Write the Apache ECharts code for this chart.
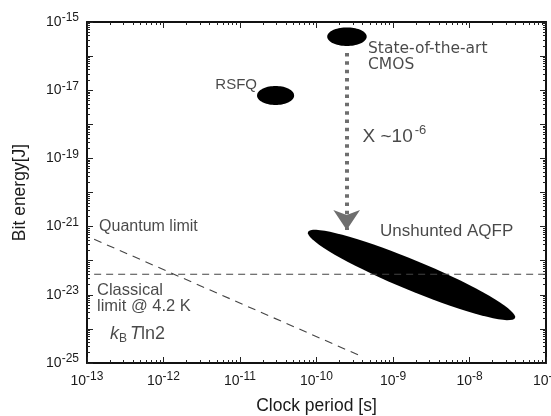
<!DOCTYPE html>
<html>
<head>
<meta charset="utf-8">
<script src="https://cdn.jsdelivr.net/npm/echarts@6/dist/echarts.min.js"></script>
<style>
  html, body { margin: 0; padding: 0; background: #fff; }
  #chart { width: 551px; height: 416px; }
</style>
</head>
<body>
<div id="chart"></div>
<script>
// axis range (decades)
const xDecades = [1e-13, 1e-12, 1e-11, 1e-10, 1e-9, 1e-8, 1e-7];
const yDecades = [1e-25, 1e-24, 1e-23, 1e-22, 1e-21, 1e-20, 1e-19, 1e-18, 1e-17, 1e-16, 1e-15];

// technology blobs, given by the two ends of the long axis
const blobNames = ['RSFQ', 'CMOS', 'Unshunted AQFP'];
const blobX1 = [1.67e-11, 1.38e-10, 7.74e-11];
const blobY1 = [7.0e-18, 3.71e-16, 6.95e-22];
const blobX2 = [5.1e-11, 4.53e-10, 3.94e-8];
const blobY2 = [7.0e-18, 3.71e-16, 2.09e-24];

// limit lines
const quantumX = [1.24e-13, 4.06e-10];
const quantumY = [4.25e-22, 1.5e-25];
const classicalX = [1.24e-13, 1e-7];
const classicalY = [4.0e-23, 4.0e-23];

// CMOS -> AQFP arrow
const arrowX = [2.48e-10, 2.48e-10];
const arrowY = [1.23e-16, 7.9e-22];

// annotations
const annoText = ['RSFQ', 'State-of-the-art\nCMOS', '{x|X ~10}{e|-6}', 'Unshunted AQFP',
  'Quantum limit', 'Classical\nlimit @ 4.2 K', '{i|k}{sub|B}{i|T}{r|ln2}'];
const annoX = [1.67e-11, 4.71e-10, 4.0e-10, 6.76e-10, 1.44e-13, 1.35e-13, 2.0e-13];
const annoY = [1.42e-17, 2.77e-16, 4.25e-19, 7.43e-22, 9.7e-22, 2.37e-23, 7.08e-25];

// the axes run on log10 of the values
const L = Math.log10;
function minorTicks(decades) {
  const out = [];
  for (let i = 0; i < decades.length - 1; i++) {
    for (let k = 2; k <= 9; k++) out.push(L(k * decades[i]));
  }
  return out;
}

const FONT = 'Liberation Sans';
const TXT = '#1a1a1a';
const blobHalfWidth = [9.5, 9.3, 15];
const annoStyle = [
  { align: 'right', verticalAlign: 'middle', fontSize: 15 },
  { align: 'left', verticalAlign: 'top', fontSize: 15.5, lineHeight: 16, fontFamily: 'DejaVu Sans' },
  { align: 'left', verticalAlign: 'middle' },
  { align: 'left', verticalAlign: 'middle', fontSize: 17 },
  { align: 'left', verticalAlign: 'middle', fontSize: 16 },
  { align: 'left', verticalAlign: 'top', fontSize: 16.5, lineHeight: 16 },
  { align: 'left', verticalAlign: 'middle' }
];

const tickRich = {
  b: { fontSize: 14, lineHeight: 20, fontFamily: FONT, color: TXT },
  s: { fontSize: 12, lineHeight: 11, verticalAlign: 'top', fontFamily: FONT, color: TXT }
};

// main axes carry the frame and decade ticks, overlay axes the 2..9 minor ticks
function axis(dim, position, len, main, extra) {
  const o = {
    type: 'value', position: position,
    min: dim === 'x' ? L(xDecades[0]) : L(yDecades[0]),
    max: dim === 'x' ? L(xDecades[xDecades.length - 1]) : L(yDecades[yDecades.length - 1]),
    splitLine: { show: false },
    axisLine: { show: main, onZero: false, lineStyle: { color: '#111', width: 2 } },
    axisTick: { show: true, inside: true, length: len, lineStyle: { color: '#222', width: 1 } },
    axisLabel: { show: false }
  };
  if (main) {
    o.interval = 1;
  } else {
    o.axisTick.customValues = minorTicks(dim === 'x' ? xDecades : yDecades);
  }
  return Object.assign(o, extra || {});
}

const xAxes = [
  axis('x', 'bottom', 6, true, {
    name: 'Clock period [s]', nameLocation: 'middle', nameGap: 34,
    nameTextStyle: { fontSize: 17.5, fontFamily: FONT, color: TXT },
    axisLabel: { show: true, margin: 8, rich: tickRich,
      formatter: v => '{b|10}{s|' + Math.round(v) + '}' }
  }),
  axis('x', 'bottom', 3, false),
  axis('x', 'top', 6, true),
  axis('x', 'top', 3, false)
];
const yAxes = [
  axis('y', 'left', 6, true, {
    name: 'Bit energy[J]', nameLocation: 'middle', nameGap: 58,
    nameTextStyle: { fontSize: 17.5, fontFamily: FONT, color: TXT },
    axisLabel: { show: true, margin: 8, rich: tickRich,
      formatter: v => (Math.abs(Math.round(v) % 2) === 1 ? '{b|10}{s|' + Math.round(v) + '}' : '') }
  }),
  axis('y', 'left', 3, false),
  axis('y', 'right', 6, true),
  axis('y', 'right', 3, false)
];

const chart = echarts.init(document.getElementById('chart'));

const option = {
  animation: false,
  grid: { left: 87, right: 5, top: 22, bottom: 53, containLabel: false, outerBoundsMode: 'none' },
  xAxis: xAxes,
  yAxis: yAxes,
  series: [
    {
      type: 'line', name: 'Quantum limit', silent: true, symbol: 'none',
      data: quantumX.map((x, i) => [L(x), L(quantumY[i])]),
      lineStyle: { color: '#444', width: 1.1, type: [8, 6] }
    },
    {
      type: 'line', name: 'Classical limit', silent: true, symbol: 'none',
      data: classicalX.map((x, i) => [L(x), L(classicalY[i])]),
      lineStyle: { color: '#444', width: 1.1, type: [7, 5] }
    },
    {
      type: 'custom', name: 'blobs', silent: true,
      data: blobNames.map((n, i) => [L(blobX1[i]), L(blobY1[i]), L(blobX2[i]), L(blobY2[i])]),
      renderItem: function (params, api) {
        const p1 = api.coord([api.value(0), api.value(1)]);
        const p2 = api.coord([api.value(2), api.value(3)]);
        const cx = (p1[0] + p2[0]) / 2, cy = (p1[1] + p2[1]) / 2;
        const dx = p2[0] - p1[0], dy = p2[1] - p1[1];
        const a = Math.sqrt(dx * dx + dy * dy) / 2;
        const b = blobHalfWidth[params.dataIndex];
        const ang = Math.atan2(dy, dx);
        const pts = [];
        for (let t = 0; t < 72; t++) {
          const th = t / 72 * Math.PI * 2;
          const ex = a * Math.cos(th), ey = b * Math.sin(th);
          pts.push([cx + ex * Math.cos(ang) - ey * Math.sin(ang),
                    cy + ex * Math.sin(ang) + ey * Math.cos(ang)]);
        }
        return { type: 'polygon', shape: { points: pts }, style: { fill: '#000' } };
      }
    },
    {
      type: 'lines', coordinateSystem: 'cartesian2d', silent: true,
      data: [{ coords: arrowX.map((x, i) => [L(x), L(arrowY[i])]) }],
      symbol: ['none', 'arrow'], symbolSize: [18, 20],
      lineStyle: { color: '#6e6e6e', width: 4, type: [3.5, 4.8], opacity: 1 }
    },
    {
      type: 'scatter', silent: true, symbolSize: 0,
      data: annoText.map((t, i) => ({
        value: [L(annoX[i]), L(annoY[i])],
        label: Object.assign({ show: true, formatter: t, position: [0, 0], color: TXT,
          fontFamily: FONT }, annoStyle[i])
      })),
      label: {
        rich: {
          x: { fontSize: 19, lineHeight: 26, fontFamily: FONT, color: TXT },
          e: { fontSize: 13, lineHeight: 13, verticalAlign: 'top', fontFamily: FONT, color: TXT,
            padding: [0, 0, 0, 2] },
          i: { fontSize: 18, fontStyle: 'italic', fontFamily: FONT, color: TXT, lineHeight: 22 },
          sub: { fontSize: 12, verticalAlign: 'bottom', lineHeight: 14, fontFamily: FONT, color: TXT,
            padding: [0, 3, 0, 0] },
          r: { fontSize: 18, fontFamily: FONT, color: TXT, lineHeight: 22 }
        }
      }
    }
  ]
};

chart.setOption(option);
</script>
</body>
</html>
